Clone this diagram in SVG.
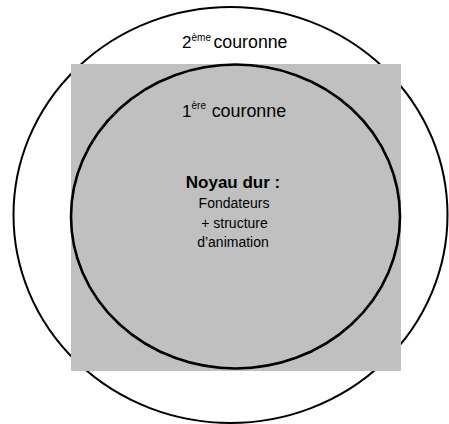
<svg xmlns="http://www.w3.org/2000/svg" width="449" height="424" viewBox="0 0 449 424">
<style>
text{font-family:"Liberation Sans",Arial,sans-serif;fill:#000}
.ring{fill:none;stroke:#000}
</style>
<rect width="449" height="424" fill="#fff"/>
<g id="outer">
<ellipse class="ring" cx="230.5" cy="215" rx="217" ry="208" stroke-width="2"/>
<text x="182" y="48.3" font-size="17">2</text>
<text x="191.5" y="41" font-size="10">ème</text>
<text x="213.5" y="48.3" font-size="17.5" textLength="74" lengthAdjust="spacingAndGlyphs">couronne</text>
</g>
<g id="square">
<rect x="71" y="64" width="330" height="307" fill="#c0c0c0"/>
</g>
<g id="inner">
<ellipse class="ring" cx="235.5" cy="216.5" rx="164.5" ry="152" stroke-width="2.6"/>
<text x="182" y="116.5" font-size="17">1</text>
<text x="191.5" y="109" font-size="10">ère</text>
<text x="211.7" y="116.5" font-size="17.5" textLength="74.5" lengthAdjust="spacingAndGlyphs">couronne</text>
</g>
<g id="core" text-anchor="middle">
<text x="233" y="188.3" font-size="17" font-weight="bold">Noyau dur :</text>
<text x="234" y="208.3" font-size="14">Fondateurs</text>
<text x="234.5" y="227.7" font-size="14">+ structure</text>
<text x="233" y="247.3" font-size="14">d’animation</text>
</g>
<g id="connectors"/>
</svg>
